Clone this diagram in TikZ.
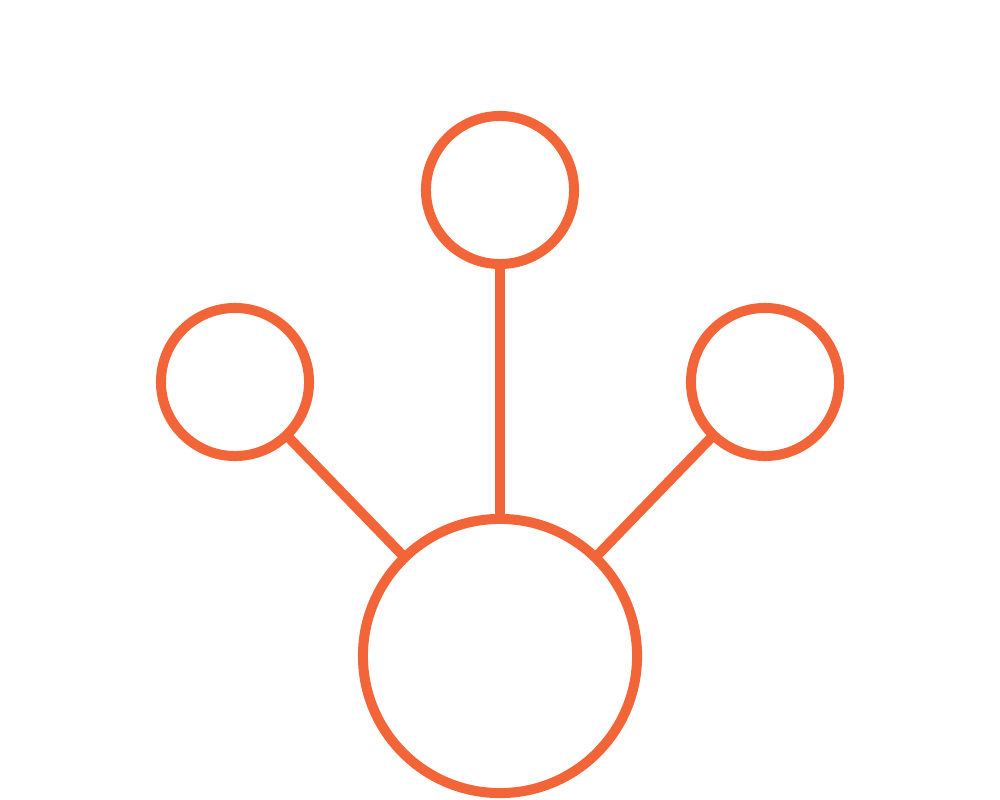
\documentclass[tikz,border=0pt]{standalone}
\usepackage{tikz}
\definecolor{hubOrange}{RGB}{242,101,56}

\begin{document}
\begin{tikzpicture}[x=0.01cm,y=-0.01cm,
  hub/.style={circle,draw=hubOrange,line width=0.1cm,inner sep=0pt,outer sep=0pt},
  link/.style={draw=hubOrange,line width=0.1cm}]
\useasboundingbox (0,0) rectangle (1000,800);
% Draw the centre circle
\node[hub,minimum size=2.74cm] (centre) at (500,656) {};
% Draw the three outer circles
\node[hub,minimum size=1.48cm] (top) at (500,190) {};
\node[hub,minimum size=1.48cm] (left) at (235,382) {};
\node[hub,minimum size=1.48cm] (right) at (765,382) {};
% Draw the links
\draw[link] (top) -- (centre);
\draw[link] (left) -- (centre);
\draw[link] (right) -- (centre);
\end{tikzpicture}
\end{document}
